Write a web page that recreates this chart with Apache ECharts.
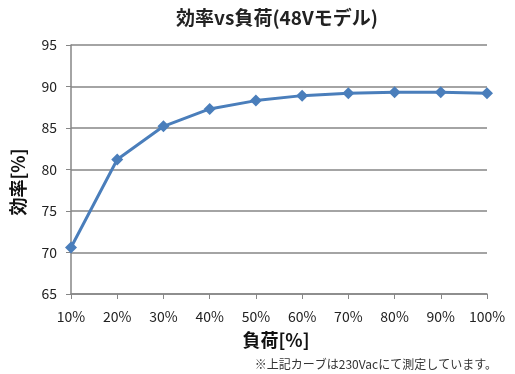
<!DOCTYPE html>
<html><head><meta charset="utf-8">
<script src="https://cdn.jsdelivr.net/npm/echarts@6/dist/echarts.min.js"></script>
<style>html,body{margin:0;padding:0;background:#fff}#c{width:515px;height:374px}</style>
</head><body><div id="c"></div>
<script>
const categories = ['10%','20%','30%','40%','50%','60%','70%','80%','90%','100%'];
const efficiency = [70.6, 81.2, 85.2, 87.3, 88.3, 88.9, 89.2, 89.3, 89.3, 89.2];
const titleText = '効率vs負荷(48Vモデル)';
const yName = '効率[%]';
const xName = '負荷[%]';
const note = '※上記カーブは230Vacにて測定しています。';
const F = '"Noto Sans CJK JP", "Noto Sans", sans-serif';
const chart = echarts.init(document.getElementById('c'));
chart.setOption({
  animation:false,
  graphic:[
    {type:'text',x:277,y:18,style:{text:titleText,font:'bold 19px '+F,fill:'#222',align:'center',verticalAlign:'middle'}},
    {type:'text',x:276,y:340,style:{text:xName,font:'bold 18px '+F,fill:'#111',align:'center',verticalAlign:'middle'}},
    {type:'text',x:18,y:182,rotation:Math.PI/2,style:{text:yName,font:'bold 18px '+F,fill:'#111',align:'center',verticalAlign:'middle'}},
    {type:'text',x:497,y:364,style:{text:note,font:'12px '+F,fill:'#333',align:'right',verticalAlign:'middle'}}
  ],
  grid:{left:71,right:28,top:45,bottom:80},
  xAxis:{type:'category',data:categories,boundaryGap:false,
    axisLine:{lineStyle:{color:'#868686',width:1.5}},
    axisTick:{show:true,alignWithLabel:true,interval:0,length:5,lineStyle:{color:'#868686'}},
    axisLabel:{interval:0,hideOverlap:false,fontFamily:F,fontSize:14,color:'#222',margin:16}},
  yAxis:{type:'value',min:65,max:95,interval:5,
    axisLine:{show:true,lineStyle:{color:'#868686',width:1.5}},
    axisTick:{show:true,length:5,lineStyle:{color:'#868686'}},
    axisLabel:{fontFamily:F,fontSize:14,color:'#222',margin:14},
    splitLine:{lineStyle:{color:'#868686',width:1.5}}},
  series:[{type:'line',data:efficiency,symbol:'diamond',symbolSize:12,
    lineStyle:{color:'#4A7EBB',width:3},itemStyle:{color:'#4A7EBB'}}]
});
</script></body></html>
